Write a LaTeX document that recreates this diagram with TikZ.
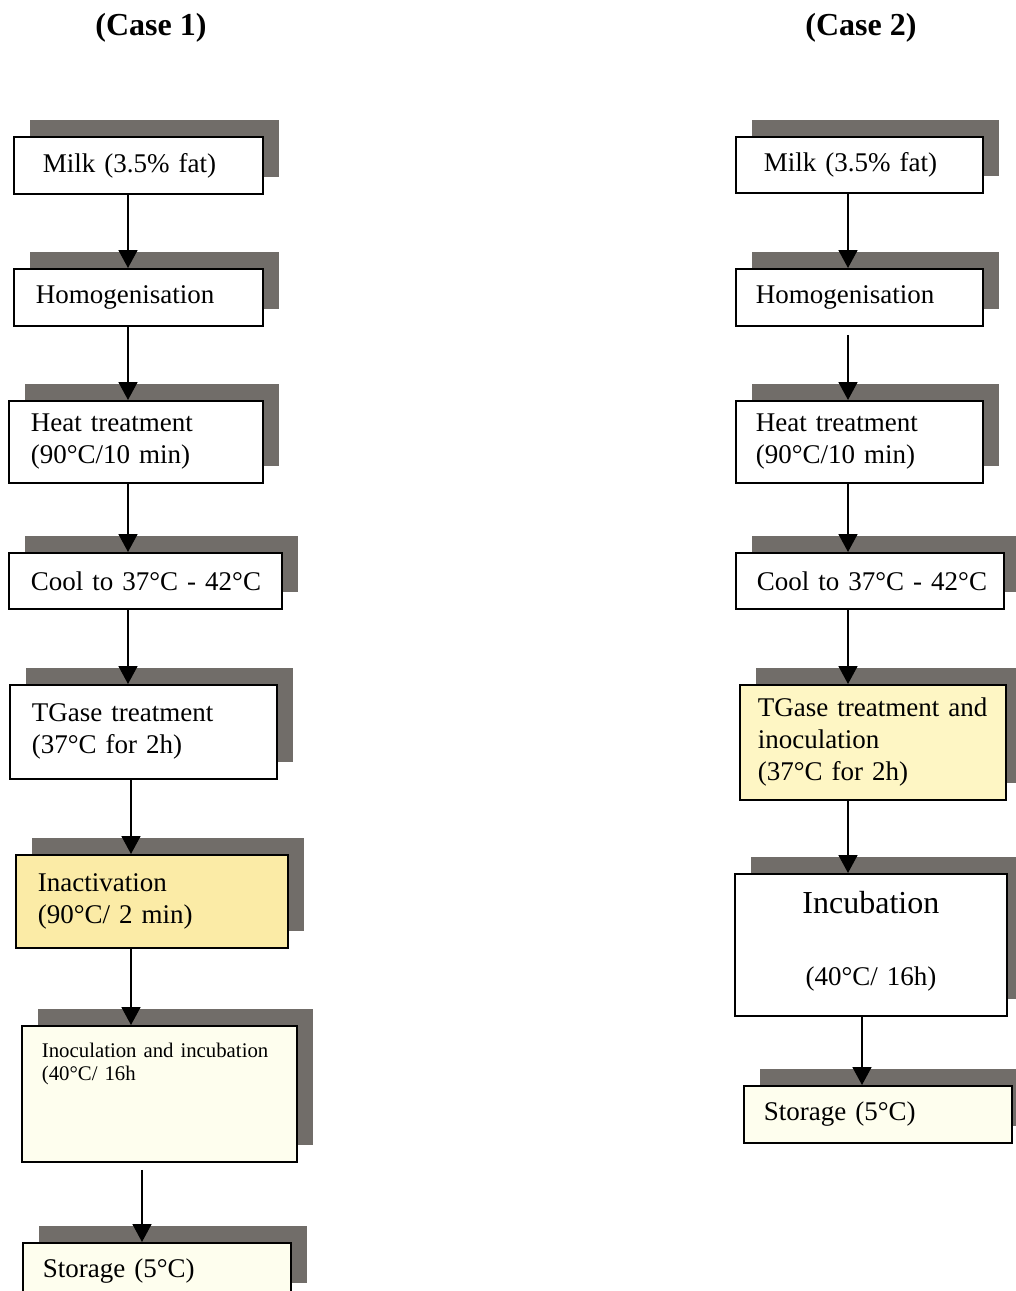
\documentclass[tikz,border=0pt]{standalone}
\usepackage{fontspec}
\setmainfont{Liberation Serif}
\usetikzlibrary{arrows.meta,shadows}
\definecolor{ShadeGray}{HTML}{716D69}
\definecolor{WarmYellow}{HTML}{FBEBA6}
\definecolor{PaleYellow}{HTML}{FEF6C4}
\definecolor{Cream}{HTML}{FEFEEE}
\newcommand{\stepfont}{\fontsize{27}{32}\selectfont}
\newcommand{\smallstepfont}{\fontsize{20.8}{23}\selectfont}
\newcommand{\bigstepfont}{\fontsize{32}{36}\selectfont}

\begin{document}
\begin{tikzpicture}[x=1pt,y=-1pt,>={Triangle[width=19pt,length=18pt]},
 stepbox/.style={draw,line width=1.8pt,fill=white,anchor=north west,
                 align=left,inner ysep=0pt,font=\stepfont,
                 drop shadow={shadow xshift=16.5pt,shadow yshift=16.5pt,
                              fill=ShadeGray,opacity=1}},
 boxdims/.style n args={3}{minimum width=#1pt,minimum height=#2pt,
                           inner xsep=#3pt,text width=#1pt-2*#3pt},
 title/.style={font=\bfseries\fontsize{32}{36}\selectfont,anchor=base},
 flow/.style={->,line width=1.8pt}]
\useasboundingbox (0,0) rectangle (1016,1291);
% Case 1
\node[title] (case1) at (151,35) {(Case 1)};
\node[stepbox,boxdims={249}{57}{29}] (milk1) at (13,136) {Milk (3.5\% fat)};
\node[stepbox,boxdims={249}{57}{22}] (homog1) at (13,268) {Homogenisation};
\node[stepbox,boxdims={254}{82}{22}] (heat1) at (8,400) {Heat treatment\\(90°C/10 min)};
\node[stepbox,boxdims={273}{56}{22}] (cool1) at (8,552) {\mbox{Cool to 37°C - 42°C}};
\node[stepbox,boxdims={267}{94}{22}] (tgase1) at (9,684) {TGase treatment\\(37°C for 2h)};
\node[stepbox,boxdims={272}{93}{22},fill=WarmYellow] (inact1) at (15,854) {Inactivation\\(90°C/ 2 min)};
\node[stepbox,boxdims={275}{136}{20},fill=Cream,font=\smallstepfont,
      text height=32pt,text depth=104pt] (inoc1) at (21,1025) {Inoculation and incubation\\(40°C/ 16h};
\node[stepbox,boxdims={268}{57}{20},fill=Cream] (store1) at (22,1242) {Storage (5°C)};
% Case 2
\node[title] (case2) at (861,35) {(Case 2)};
\node[stepbox,boxdims={247}{56}{28}] (milk2) at (735,136) {Milk (3.5\% fat)};
\node[stepbox,boxdims={247}{57}{20}] (homog2) at (735,268) {Homogenisation};
\node[stepbox,boxdims={247}{82}{20}] (heat2) at (735,400) {Heat treatment\\(90°C/10 min)};
\node[stepbox,boxdims={268}{56}{21}] (cool2) at (735,552) {\mbox{Cool to 37°C - 42°C}};
\node[stepbox,boxdims={266}{115}{18},fill=PaleYellow] (tgase2) at (739,684) {TGase treatment and\\inoculation\\(37°C for 2h)};
\node[stepbox,boxdims={272}{142}{10},align=center,
      text height=40pt,text depth=102pt] (incub2) at (734,873) {{\bigstepfont Incubation}\\[40pt](40°C/ 16h)};
\node[stepbox,boxdims={268}{57}{20},fill=Cream] (store2) at (743,1085) {Storage (5°C)};
% arrow lanes
\coordinate (laneA) at (128,0);
\coordinate (laneB) at (131,0);
\coordinate (laneC) at (142,0);
\coordinate (laneD) at (848,0);
\coordinate (laneE) at (862,0);
\draw[flow] (milk1.south -| laneA) -- (homog1.north -| laneA);
\draw[flow] (homog1.south -| laneA) -- (heat1.north -| laneA);
\draw[flow] (heat1.south -| laneA) -- (cool1.north -| laneA);
\draw[flow] (cool1.south -| laneA) -- (tgase1.north -| laneA);
\draw[flow] (tgase1.south -| laneB) -- (inact1.north -| laneB);
\draw[flow] (inact1.south -| laneB) -- (inoc1.north -| laneB);
\draw[flow,shorten <=7pt] (inoc1.south -| laneC) -- (store1.north -| laneC);
\draw[flow] (milk2.south -| laneD) -- (homog2.north -| laneD);
\draw[flow,shorten <=8pt] (homog2.south -| laneD) -- (heat2.north -| laneD);
\draw[flow] (heat2.south -| laneD) -- (cool2.north -| laneD);
\draw[flow] (cool2.south -| laneD) -- (tgase2.north -| laneD);
\draw[flow] (tgase2.south -| laneD) -- (incub2.north -| laneD);
\draw[flow] (incub2.south -| laneE) -- (store2.north -| laneE);
\end{tikzpicture}
\end{document}
